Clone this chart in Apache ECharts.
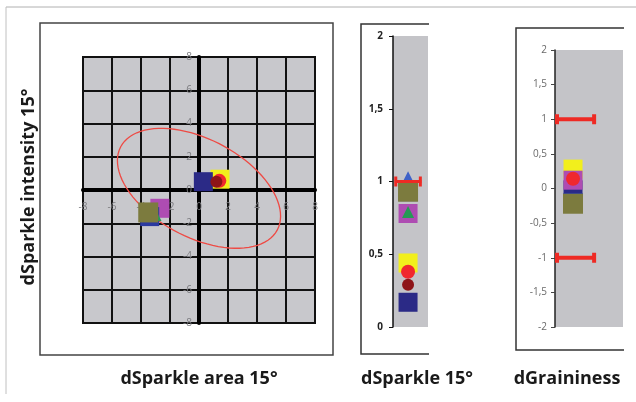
<!DOCTYPE html>
<html>
<head>
<meta charset="utf-8">
<script src="https://cdn.jsdelivr.net/npm/echarts@6/dist/echarts.min.js"></script>
<style>
  html, body { margin: 0; padding: 0; background: #fff; }
  #main { width: 636px; height: 402px; }
</style>
</head>
<body>
<div id="main"></div>
<script>
  // samples, in drawing order (later ones on top)
  var samples = ['blueTri', 'yellow', 'navy', 'magenta', 'red', 'darkred', 'navy2', 'greenTri', 'olive'];

  // dSparkle area 15° / dSparkle intensity 15°
  var sparkleArea      = [0.9, 1.45, 0.3, -2.7, 1.4, 1.2, -3.4, -3.0, -3.5];
  var sparkleIntensity = [0.6, 0.65, 0.5, -1.1, 0.55, 0.5, -1.6, -1.5, -1.35];
  // dSparkle 15°
  var sparkle15        = [1.04, 0.44, 0.17, 0.78, 0.38, 0.29, 0.93, 0.79, 0.93];
  // dGraininess
  var graininess       = [0.1, 0.28, -0.02, 0.12, 0.14, -0.22, -0.2, -0.24, -0.22];

  // tolerance limits
  var sparkleLimits = [1];
  var grainLimits = [1, -1];

  // ellipse: centre, semi-axis vectors (data units)
  var ellipse = [[0, 0.1, 5.4, -2.5, 1.58, 2.6]];

  var ticks1 = [-8, 8, 2];
  var ticks2 = [0, 2, 0.5];
  var ticks3 = [-2, 2, 0.5];

  // marker styles per sample
  var styles = {
    yellow:   {symbol: 'rect', color: '#f2ef1c', size: 19},
    navy:     {symbol: 'rect', color: '#2b2a86', size: 19},
    red:      {symbol: 'circle', color: '#f0282e', size: 14},
    darkred:  {symbol: 'circle', color: '#8e1418', size: 12},
    navy2:    {symbol: 'rect', color: '#2b3aa0', size: 19},
    greenTri: {symbol: 'triangle', color: '#259a55', size: 12},
    magenta:  {symbol: 'rect', color: '#ae4cb2', size: 19},
    olive:    {symbol: 'rect', color: '#7c7b3e', size: 20},
    blueTri:  {symbol: 'triangle', color: '#3f62c8', size: 9}
  };

  function points(xs, ys) {
    return samples.map(function (s, i) {
      var st = styles[s];
      return {
        value: [xs[i], ys[i]],
        symbol: st.symbol,
        symbolSize: st.size,
        itemStyle: {color: st.color, opacity: 1}
      };
    });
  }
  function constX(v) { return samples.map(function () { return v; }); }
  function comma(v) { return String(v).replace('.', ','); }

  var chart = echarts.init(document.getElementById('main'));

  var titleFont = {fontFamily: 'Open Sans', fontWeight: 'bold', fontSize: 18, fill: '#1a1a1a'};

  function errorBar(x0, x1, lw, cap) {
    return function (params, api) {
      var a = api.coord([x0, api.value(0)]);
      var b = api.coord([x1, api.value(0)]);
      var st = {stroke: '#ee2a24', lineWidth: lw};
      return {
        type: 'group',
        children: [
          {type: 'line', shape: {x1: a[0], y1: a[1], x2: b[0], y2: b[1]}, style: st},
          {type: 'line', shape: {x1: a[0] + 1, y1: a[1] - cap, x2: a[0] + 1, y2: a[1] + cap}, style: st},
          {type: 'line', shape: {x1: b[0] - 1, y1: b[1] - cap, x2: b[0] - 1, y2: b[1] + cap}, style: st}
        ]
      };
    };
  }

  var option = {
    animation: false,
    grid: [
      {left: 83, top: 57, width: 232, height: 266, show: true, backgroundColor: '#c8c8cc', borderColor: '#111', borderWidth: 2},
      {left: 393, top: 36, width: 35, height: 291, show: true, backgroundColor: '#c4c4c8', borderWidth: 0},
      {left: 555, top: 50, width: 68, height: 277, show: true, backgroundColor: '#c4c4c8', borderWidth: 0}
    ],
    xAxis: [
      {gridIndex: 0, type: 'value', min: ticks1[0], max: ticks1[1], interval: ticks1[2],
        position: 'bottom', offset: -133,
        axisLine: {onZero: false, lineStyle: {color: '#000', width: 4}},
        axisTick: {show: false},
        splitLine: {lineStyle: {color: '#111', width: 2}},
        axisLabel: {color: '#7c7c80', fontSize: 10, margin: 12, fontFamily: 'Open Sans'}},
      {gridIndex: 1, type: 'value', min: 0, max: 2, show: false},
      {gridIndex: 2, type: 'value', min: 0, max: 2, show: false}
    ],
    yAxis: [
      {gridIndex: 0, type: 'value', min: ticks1[0], max: ticks1[1], interval: ticks1[2],
        position: 'left', offset: -116,
        axisLine: {onZero: false, lineStyle: {color: '#000', width: 4}},
        axisTick: {show: false},
        splitLine: {lineStyle: {color: '#111', width: 2}},
        axisLabel: {color: '#7c7c80', fontSize: 10, margin: 7, fontFamily: 'Open Sans'}},
      {gridIndex: 1, type: 'value', min: ticks2[0], max: ticks2[1], interval: ticks2[2],
        axisLine: {show: true, lineStyle: {color: '#111', width: 1.5}},
        axisTick: {show: true, length: 4, lineStyle: {color: '#111'}},
        splitLine: {show: false},
        axisLabel: {color: '#222', fontSize: 10, fontWeight: 'bold', margin: 10, fontFamily: 'Open Sans', formatter: comma}},
      {gridIndex: 2, type: 'value', min: ticks3[0], max: ticks3[1], interval: ticks3[2],
        axisLine: {show: true, lineStyle: {color: '#222', width: 1.5}},
        axisTick: {show: true, length: 4, lineStyle: {color: '#444'}},
        splitLine: {show: false},
        axisLabel: {color: '#6a6a6a', fontSize: 10, margin: 8, fontFamily: 'Open Sans', formatter: comma}}
    ],
    series: [
      {
        type: 'custom', xAxisIndex: 0, yAxisIndex: 0, z: 3,
        data: ellipse,
        renderItem: function (params, api) {
          var cx = api.value(0), cy = api.value(1);
          var ux = api.value(2), uy = api.value(3), vx = api.value(4), vy = api.value(5);
          var pts = [];
          for (var k = 0; k < 90; k++) {
            var t = k / 90 * Math.PI * 2;
            pts.push(api.coord([cx + ux * Math.cos(t) + vx * Math.sin(t), cy + uy * Math.cos(t) + vy * Math.sin(t)]));
          }
          return {type: 'polygon', shape: {points: pts}, style: {fill: 'none', stroke: '#ee4a44', lineWidth: 1.3}};
        }
      },
      {type: 'scatter', xAxisIndex: 0, yAxisIndex: 0, z: 4, data: points(sparkleArea, sparkleIntensity)},
      {type: 'scatter', xAxisIndex: 1, yAxisIndex: 1, z: 4, data: points(constX(0.86), sparkle15)},
      {type: 'custom', xAxisIndex: 1, yAxisIndex: 1, z: 5, data: sparkleLimits.map(function (v) { return [v]; }),
        renderItem: errorBar(0.1, 1.62, 3, 5)},
      {type: 'scatter', xAxisIndex: 2, yAxisIndex: 2, z: 4, data: points(constX(0.53), graininess)},
      {type: 'custom', xAxisIndex: 2, yAxisIndex: 2, z: 5, data: grainLimits.map(function (v) { return [v]; }),
        renderItem: errorBar(0.03, 1.18, 4, 5)}
    ],
    graphic: [
      {type: 'line', shape: {x1: 6, y1: 7, x2: 636, y2: 7}, style: {stroke: '#b0b0b0', lineWidth: 1}},
      {type: 'line', shape: {x1: 6, y1: 7, x2: 6, y2: 394}, style: {stroke: '#c0c0c0', lineWidth: 1}},
      {type: 'rect', shape: {x: 40, y: 23, width: 293, height: 332}, style: {fill: 'none', stroke: '#444', lineWidth: 1.5}},
      {type: 'polyline', shape: {points: [[429, 24], [361, 24], [361, 354], [429, 354]]}, style: {fill: 'none', stroke: '#333', lineWidth: 1.5}},
      {type: 'polyline', shape: {points: [[624, 28], [516, 28], [516, 350], [624, 350]]}, style: {fill: 'none', stroke: '#333', lineWidth: 1.5}},
      {type: 'text', x: 199, y: 379, style: Object.assign({text: 'dSparkle area 15°', align: 'center', verticalAlign: 'middle'}, titleFont)},
      {type: 'text', x: 417, y: 379, style: Object.assign({text: 'dSparkle 15°', align: 'center', verticalAlign: 'middle'}, titleFont)},
      {type: 'text', x: 567, y: 379, style: Object.assign({text: 'dGraininess', align: 'center', verticalAlign: 'middle'}, titleFont)},
      {type: 'text', x: 29, y: 187, rotation: Math.PI / 2, style: Object.assign({text: 'dSparkle intensity 15°', align: 'center', verticalAlign: 'middle'}, titleFont)}
    ]
  };

  chart.setOption(option);
</script>
</body>
</html>
